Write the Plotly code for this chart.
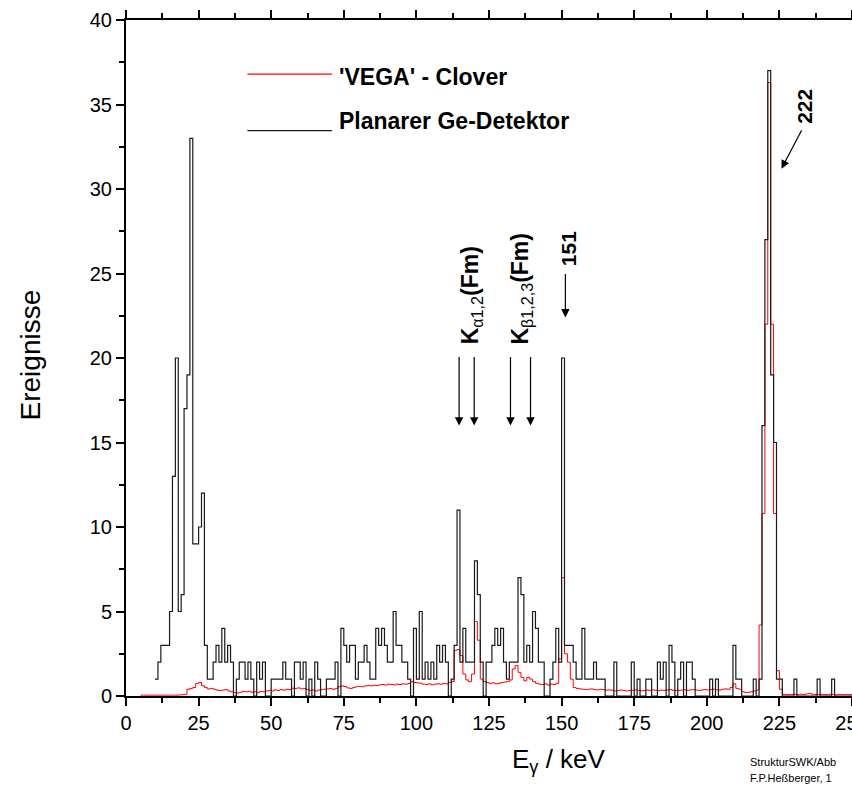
import plotly.graph_objects as go

# Planar Ge detector: counts per 1 keV bin, bins start at e_ge_start
e_ge_start = 10
ge_counts = [
    1, 2, 3, 3, 3, 5, 13, 20, 5, 6,            # 10-19
    17, 19, 33, 9, 9, 10, 12, 3, 1, 1,         # 20-29
    2, 3, 2, 4, 2, 3, 2, 0, 1, 2,              # 30-39
    2, 1, 2, 1, 0, 2, 1, 2, 0, 0,              # 40-49
    1, 1, 1, 1, 2, 1, 1, 0, 2, 2,              # 50-59
    1, 2, 0, 1, 0, 2, 1, 0, 0, 1,              # 60-69
    1, 1, 2, 0, 4, 3, 2, 3, 3, 1,              # 70-79
    2, 2, 3, 2, 1, 1, 4, 3, 4, 3,              # 80-89
    2, 2, 5, 3, 3, 2, 2, 1, 0, 4,              # 90-99
    1, 5, 1, 2, 1, 2, 1, 3, 2, 3,              # 100-109
    2, 0, 1, 3, 11, 2, 4, 2, 2, 2,             # 110-119
    8, 6, 2, 0, 2, 2, 3, 4, 3, 4,              # 120-129
    2, 1, 2, 2, 2, 7, 6, 2, 3, 2,              # 130-139
    5, 4, 2, 2, 0, 0, 1, 2, 4, 2,              # 140-149
    20, 3, 3, 3, 2, 1, 1, 4, 1, 1,             # 150-159
    1, 2, 1, 1, 1, 0, 0, 0, 2, 0,              # 160-169
    0, 0, 0, 0, 2, 0, 1, 0, 0, 1,              # 170-179
    1, 0, 0, 2, 1, 2, 0, 3, 2, 0,              # 180-189
    1, 2, 0, 2, 2, 1, 0, 0, 0, 0,              # 190-199
    0, 1, 0, 1, 0, 0, 0, 0, 0, 3,              # 200-209
    1, 1, 0, 0, 0, 0, 1, 0, 1, 16,             # 210-219
    27, 37, 19, 15, 1, 1, 0, 0, 0, 0,          # 220-229
    1, 0, 0, 0, 0, 0, 0, 0, 1, 0,              # 230-239
    0, 0, 0, 1, 0, 0, 0, 0, 0, 0,              # 240-249
]

# 'VEGA' Clover array: normalised events per 1 keV bin, bins start at e_vega_start
e_vega_start = 5
vega_counts = [
    0.05, 0.05, 0.05, 0.05, 0.05,                                  # 5-9
    0.05, 0.05, 0.05, 0.05, 0.05, 0.05, 0.05, 0.05, 0.06, 0.08,    # 10-19
    0.10, 0.40, 0.45, 0.50, 0.75, 0.80, 0.60, 0.50, 0.42, 0.45,    # 20-29
    0.40, 0.35, 0.33, 0.35, 0.38, 0.30, 0.25, 0.20, 0.18, 0.22,    # 30-39
    0.27, 0.25, 0.28, 0.22, 0.25, 0.20, 0.27, 0.25, 0.30, 0.33,    # 40-49
    0.30, 0.36, 0.33, 0.38, 0.35, 0.40, 0.38, 0.46, 0.45, 0.48,    # 50-59
    0.42, 0.45, 0.38, 0.33, 0.36, 0.30, 0.35, 0.38, 0.40, 0.42,    # 60-69
    0.44, 0.40, 0.45, 0.55, 0.60, 0.56, 0.48, 0.45, 0.50, 0.55,    # 70-79
    0.56, 0.55, 0.60, 0.62, 0.60, 0.64, 0.62, 0.66, 0.68, 0.65,    # 80-89
    0.70, 0.68, 0.66, 0.70, 0.68, 0.72, 0.70, 0.74, 0.85, 0.80,    # 90-99
    0.78, 0.76, 0.70, 0.68, 0.72, 0.66, 0.70, 0.72, 0.70, 0.74,    # 100-109
    0.72, 0.80, 0.85, 2.70, 2.75, 2.40, 1.30, 0.95, 0.85, 1.30,    # 110-119
    4.40, 3.30, 1.00, 0.85, 0.80, 0.75, 0.78, 0.72, 0.75, 0.80,    # 120-129
    0.82, 0.85, 0.95, 1.60, 1.80, 1.40, 1.10, 0.90, 1.10, 1.00,    # 130-139
    0.85, 0.75, 0.70, 0.68, 0.72, 0.65, 0.70, 0.68, 0.75, 2.20,    # 140-149
    7.00, 2.50, 2.00, 1.00, 0.50, 0.45, 0.42, 0.40, 0.38, 0.40,    # 150-159
    0.42, 0.38, 0.36, 0.40, 0.38, 0.35, 0.36, 0.34, 0.30, 0.32,    # 160-169
    0.35, 0.33, 0.30, 0.32, 0.34, 0.36, 0.33, 0.30, 0.32, 0.35,    # 170-179
    0.33, 0.36, 0.34, 0.32, 0.35, 0.33, 0.36, 0.38, 0.34, 0.32,    # 180-189
    0.33, 0.35, 0.37, 0.34, 0.36, 0.38, 0.35, 0.33, 0.36, 0.38,    # 190-199
    0.36, 0.38, 0.40, 0.37, 0.35, 0.40, 0.42, 0.40, 0.50, 0.72,    # 200-209
    0.45, 0.40, 0.25, 0.20, 0.22, 0.25, 0.30, 0.35, 4.20, 10.8,    # 210-219
    22.0, 36.3, 22.0, 10.8, 1.50, 0.40, 0.10, 0.09, 0.08, 0.10,    # 220-229
    0.09, 0.08, 0.10, 0.09, 0.12, 0.15, 0.10, 0.09, 0.08, 0.10,    # 230-239
    0.09, 0.08, 0.10, 0.09, 0.08, 0.10, 0.09, 0.08, 0.09, 0.08,    # 240-249
]

x_ticks = [0, 25, 50, 75, 100, 125, 150, 175, 200, 225, 250]
y_ticks = [0, 5, 10, 15, 20, 25, 30, 35, 40]


def step_edges(start, values):
    # left edges of each bin plus the closing edge, for an 'hv' step line
    xs = [start + i for i in range(len(values) + 1)]
    ys = list(values) + [values[-1]]
    return xs, ys


FONT = "Liberation Sans, Arial, sans-serif"

fig = go.Figure()

vx, vy = step_edges(e_vega_start, vega_counts)
fig.add_trace(go.Scatter(x=vx, y=vy, mode="lines", line_shape="hv",
                         line=dict(color="#ff0000", width=1),
                         name="'VEGA' - Clover", showlegend=False))

gx, gy = step_edges(e_ge_start, ge_counts)
fig.add_trace(go.Scatter(x=gx, y=gy, mode="lines", line_shape="hv",
                         line=dict(color="#1a1a1a", width=1.2),
                         name="Planarer Ge-Detektor", showlegend=False))

axis_common = dict(
    showgrid=False, zeroline=False, showline=True, linecolor="black", linewidth=2,
    ticks="outside", ticklen=8, tickwidth=2, tickcolor="black", mirror="ticks",
    tickfont=dict(family=FONT, size=20, color="black"), automargin=False,
    ticklabeloverflow="allow",
)
fig.update_xaxes(range=[0, 250], tickvals=x_ticks,
                 minor=dict(dtick=12.5, ticklen=5, tickwidth=1.5, tickcolor="black", ticks="outside"),
                 **axis_common)
fig.update_yaxes(range=[0, 40], tickvals=y_ticks,
                 minor=dict(dtick=2.5, ticklen=5, tickwidth=1.5, tickcolor="black", ticks="outside"),
                 **axis_common)

# legend drawn by hand: long sample lines with bold labels
legend_rows = [("'VEGA' - Clover", "#ff0000", 36.8, 36.6), ("Planarer Ge-Detektor", "#1a1a1a", 33.45, 34.0)]
for label, col, y_line, y_text in legend_rows:
    fig.add_shape(type="line", xref="x", yref="y", x0=41.8, x1=70.9, y0=y_line, y1=y_line,
                  line=dict(color=col, width=1.3))
    fig.add_annotation(xref="x", yref="y", x=72.5, y=y_text, text=f"<b>{label}</b>",
                       showarrow=False, xanchor="left", yanchor="middle",
                       font=dict(family=FONT, size=23, color="black"))

# peak labels
fig.add_annotation(x=119.1, y=23.7, text="<b>K</b><sub>α1,2</sub><b>(Fm)</b>", textangle=-90,
                   showarrow=False, xanchor="center", yanchor="middle",
                   font=dict(family=FONT, size=23, color="black"))
fig.add_annotation(x=136.3, y=24.1, text="<b>K</b><sub>β1,2,3</sub><b>(Fm)</b>", textangle=-90,
                   showarrow=False, xanchor="center", yanchor="middle",
                   font=dict(family=FONT, size=23, color="black"))
fig.add_annotation(x=152.2, y=26.5, text="<b>151</b>", textangle=-90,
                   showarrow=False, xanchor="center", yanchor="middle",
                   font=dict(family=FONT, size=21, color="black"))
fig.add_annotation(x=233.7, y=34.9, text="<b>222</b>", textangle=-90,
                   showarrow=False, xanchor="center", yanchor="middle",
                   font=dict(family=FONT, size=21, color="black"))

# arrows pointing at the lines
arrow_heads = [(114.7, 16.0, 0, -70), (119.9, 16.0, 0, -70), (132.4, 16.0, 0, -70),
               (139.3, 16.0, 0, -70), (151.3, 22.4, 0, -45), (225.7, 31.2, 21, -40)]
for hx, hy, ax, ay in arrow_heads:
    fig.add_annotation(x=hx, y=hy, ax=ax, ay=ay, text="", showarrow=True,
                       arrowhead=2, arrowsize=1.4, arrowwidth=1.2, arrowcolor="black", standoff=0)

# axis titles
fig.add_annotation(xref="paper", yref="paper", x=-0.132, y=0.504, text="Ereignisse",
                   textangle=-90, showarrow=False, xanchor="center", yanchor="middle",
                   font=dict(family=FONT, size=28, color="black"))
fig.add_annotation(xref="paper", yref="paper", x=0.596, y=-0.095, text="E<sub>γ</sub> / keV",
                   showarrow=False, xanchor="center", yanchor="middle",
                   font=dict(family=FONT, size=26, color="black"))

# file stamp in the lower right corner
fig.add_annotation(xref="paper", yref="paper", x=0.857, y=-0.097, text="StrukturSWK/Abb",
                   showarrow=False, xanchor="left", yanchor="middle",
                   font=dict(family=FONT, size=11, color="black"))
fig.add_annotation(xref="paper", yref="paper", x=0.857, y=-0.122, text="F.P.Heßberger, 1",
                   showarrow=False, xanchor="left", yanchor="middle",
                   font=dict(family=FONT, size=11, color="black"))

fig.update_layout(
    width=852, height=788,
    margin=dict(l=126, r=0, t=20, b=92),
    paper_bgcolor="white", plot_bgcolor="white",
    showlegend=False,
)

fig.write_html("out.html")
